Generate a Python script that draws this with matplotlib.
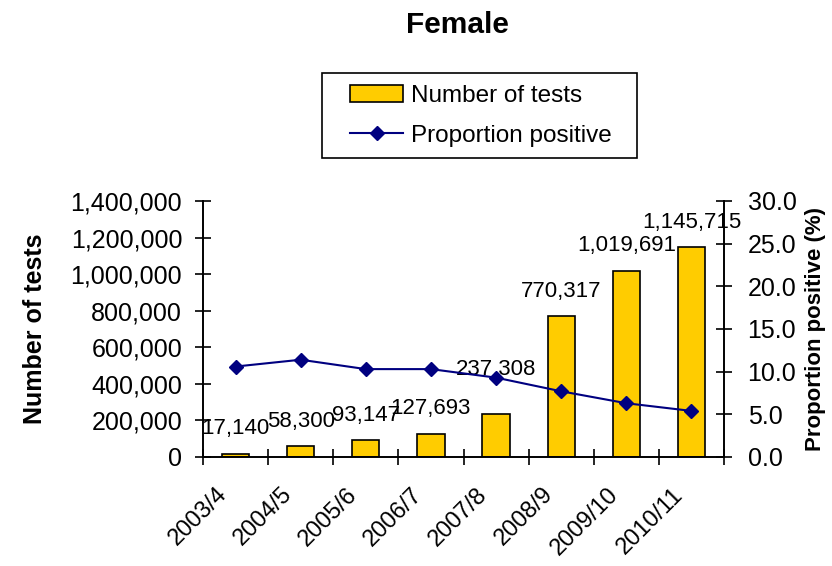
import matplotlib
matplotlib.use("Agg")
import matplotlib.pyplot as plt
from matplotlib.patches import Rectangle
import numpy as np
from matplotlib.ticker import FuncFormatter, FixedLocator

plt.rcParams['font.family'] = ['Liberation Sans', 'DejaVu Sans']

years = ["2003/4", "2004/5", "2005/6", "2006/7", "2007/8", "2008/9", "2009/10", "2010/11"]
tests = [17140, 58300, 93147, 127693, 237308, 770317, 1019691, 1145715]
prop_pos = [10.6, 11.4, 10.3, 10.3, 9.3, 7.7, 6.3, 5.4]
label_offsets = [14, 14, 14, 14, 28, 14, 14, 14]

W, H = 832, 566
fig = plt.figure(figsize=(W / 100, H / 100), dpi=100)
ax = fig.add_axes([203 / W, 109 / H, 521 / W, 256 / H])
ax2 = ax.twinx()

x = np.arange(len(years))
bars = ax.bar(x, tests, width=0.42, color='#FFCC00', edgecolor='black', linewidth=1.2,
              label='Number of tests', zorder=2)
line, = ax2.plot(x, prop_pos, color='#000080', marker='D', markersize=7, linewidth=1.5,
                 label='Proportion positive', zorder=3)

ax.set_xlim(-0.5, len(years) - 0.5)
ax.set_ylim(0, 1400000)
ax2.set_ylim(0, 30)
ax.set_yticks(np.arange(0, 1400001, 200000))
ax2.set_yticks(np.arange(0, 30.1, 5))
ax.yaxis.set_major_formatter(FuncFormatter(lambda v, p: f"{int(v):,}"))
ax2.yaxis.set_major_formatter(FuncFormatter(lambda v, p: f"{v:.1f}"))

# rotated category labels sit slightly left of each category centre (as in the source)
ax.set_xticks(x - 0.3)
ax.set_xticklabels(years, rotation=45, ha='right', va='top', rotation_mode='anchor', fontsize=17)
ax.xaxis.set_minor_locator(FixedLocator(np.arange(-0.5, len(years), 1.0)))
ax.tick_params(axis='x', which='major', length=0, pad=19)
ax.tick_params(axis='x', which='minor', direction='inout', length=11, width=1.2)
ax.tick_params(axis='y', direction='inout', length=12, width=1.2, labelsize=18, pad=9)
ax2.tick_params(axis='y', direction='inout', length=12, width=1.2, labelsize=18, pad=11)

for a in (ax, ax2):
    a.spines['top'].set_visible(False)
    for s in ('left', 'right', 'bottom'):
        a.spines[s].set_linewidth(1.2)
ax.set_facecolor('none')

for xi, v, off in zip(x, tests, label_offsets):
    ax.annotate(f"{v:,}", (xi, v), xytext=(0, off), textcoords='offset points',
                ha='center', va='baseline', fontsize=16, zorder=5)

ax.set_ylabel('Number of tests', fontsize=18, fontweight='bold', labelpad=17)
ax2.set_ylabel('Proportion positive (%)', fontsize=16, fontweight='bold', labelpad=6)

fig.text(457 / W, 1 - 25 / H, 'Female', ha='center', va='center', fontsize=21.5, fontweight='bold')

leg = fig.legend(handles=[bars, line], labels=['Number of tests', 'Proportion positive'],
                 loc='upper left', bbox_to_anchor=(350 / W, 1 - 85 / H), fontsize=17.5,
                 frameon=False, handlelength=2.2, handletextpad=0.3, borderpad=0,
                 labelspacing=0.72, borderaxespad=0)
fig.patches.append(Rectangle((322 / W, 1 - 158 / H), 315 / W, 85 / H, transform=fig.transFigure,
                             fill=False, edgecolor='black', linewidth=1.2))

fig.savefig('out.png', dpi=100)
